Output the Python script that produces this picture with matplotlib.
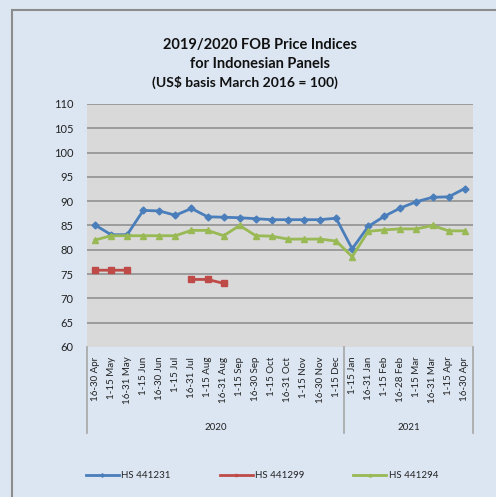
import numpy as np
import matplotlib
matplotlib.use("Agg")
import matplotlib.pyplot as plt
from matplotlib.patches import Rectangle

plt.rcParams['font.family'] = ['Lato', 'DejaVu Sans']

categories = ["16-30 Apr", "1-15 May", "16-31 May", "1-15 Jun", "16-30 Jun", "1-15 Jul",
              "16-31 Jul", "1-15 Aug", "16-31 Aug", "1-15 Sep", "16-30 Sep", "1-15 Oct",
              "16-31 Oct", "1-15 Nov", "16-30 Nov", "1-15 Dec",
              "1-15 Jan", "16-31 Jan", "1-15 Feb", "16-28 Feb", "1-15 Mar", "16-31 Mar",
              "1-15 Apr", "16-30 Apr"]
years = ["2020", "2021"]
year_counts = [16, 8]

hs441231 = [85.1, 83.1, 83.1, 88.1, 88.0, 87.1, 88.5, 86.8, 86.7, 86.6, 86.4, 86.2,
            86.2, 86.2, 86.2, 86.5, 80.2, 84.8, 86.9, 88.6, 89.9, 90.8, 90.9, 92.6]
hs441299 = [75.8, 75.8, 75.8, np.nan, np.nan, np.nan, 73.9, 73.9, 73.1] + [np.nan] * 15
hs441294 = [82.0, 82.9, 82.9, 82.9, 82.9, 82.9, 84.0, 84.0, 82.9, 85.0, 82.9, 82.8,
            82.2, 82.2, 82.2, 81.8, 78.6, 83.8, 84.1, 84.3, 84.3, 85.0, 83.9, 83.9]
series_names = ["HS 441231", "HS 441299", "HS 441294"]

yticks = [60, 65, 70, 75, 80, 85, 90, 95, 100, 105, 110]

W, H = 496, 497
fig = plt.figure(figsize=(W / 100, H / 100), dpi=100)
bg = '#dce6f2'
fig.patch.set_facecolor(bg)

# chart frame (extends beyond right/bottom)
fig.patches.append(Rectangle((12 / W, -0.05), 1.2, (1 - 10 / H) + 0.05,
                             transform=fig.transFigure, fill=False,
                             edgecolor='#8c8c8c', linewidth=1.5, zorder=0))

ax = fig.add_axes([87 / W, 1 - 347 / H, (472.7 - 87) / W, (347 - 104) / H])
ax.set_facecolor('#d9d9d9')
x = np.arange(len(categories))

ax.plot(x, hs441231, color='#4a7ebb', lw=2.0, marker='D', ms=3.5, label=series_names[0], zorder=3)
ax.plot(x, hs441299, color='#be4b48', lw=2.0, marker='s', ms=4, label=series_names[1], zorder=3)
ax.plot(x, hs441294, color='#98b954', lw=2.0, marker='^', ms=4, label=series_names[2], zorder=3)

ax.set_xlim(-0.5, len(categories) - 0.5)
ax.set_ylim(60, 110)
ax.set_yticks(yticks)
ax.set_yticklabels([str(v) for v in yticks], fontsize=8, color='#222222')
ax.yaxis.grid(True, color='#8c8c8c', linewidth=1.1)
ax.set_axisbelow(True)
ax.yaxis.get_gridlines()[0].set_visible(False)
ax.tick_params(axis='y', length=0, pad=10)

ax.set_xticks(x)
ax.set_xticklabels(categories, rotation=90, fontsize=7, color='#222222')
ax.tick_params(axis='x', length=0, pad=7)

for s in ax.spines.values():
    s.set_visible(False)

# group separators and labels
tr = ax.get_xaxis_transform()
bounds = np.concatenate([[0], np.cumsum(year_counts)]) - 0.5
for b in bounds:
    ax.plot([b, b], [0, -(433 - 347) / (347 - 104)], transform=tr, color='#a6a6a6',
            lw=1.2, clip_on=False)
for i, yr in enumerate(years):
    ax.text((bounds[i] + bounds[i + 1]) / 2, -(427 - 347) / (347 - 104), yr,
            transform=tr, ha='center', va='center', fontsize=7, color='#222222')

# title
fig.text(260 / W, 1 - 45 / H, "2019/2020 FOB Price Indices", ha='center', va='center',
         fontsize=10.5, fontweight='bold', color='#111111')
fig.text(260 / W, 1 - 64 / H, "for Indonesian Panels", ha='center', va='center',
         fontsize=10.5, fontweight='bold', color='#111111')
fig.text(245 / W, 1 - 82 / H, "(US$ basis March 2016 = 100)", ha='center', va='center',
         fontsize=10, fontweight='bold', color='#111111')

leg = fig.legend(loc='center', bbox_to_anchor=(262 / W, 1 - 476 / H), ncol=3,
                 frameon=False, fontsize=7, handlelength=3.4, columnspacing=5.0,
                 handletextpad=0.25, markerscale=0.5)
for t in leg.get_texts():
    t.set_color('#222222')

fig.savefig('out.png', dpi=100, facecolor=bg)
